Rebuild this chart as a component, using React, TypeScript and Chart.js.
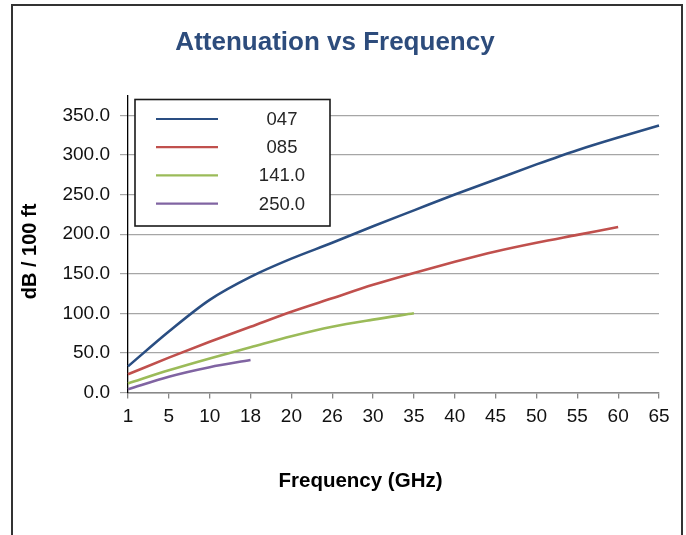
import React, { useEffect, useRef } from "react";
import { Chart, registerables } from "chart.js";

Chart.register(...registerables);

const categories = ["1", "5", "10", "18", "20", "26", "30", "35", "40", "45", "50", "55", "60", "65"];
const series047 = [33, 77, 117, 146, 169, 189, 210, 230, 250, 269, 288, 306, 322, 337];
const series085 = [23, 44, 64, 83, 102, 119, 136, 151, 165, 178, 189, 199, 209, null];
const series141 = [11.5, 28, 43, 57, 71, 83, 92, 100, null, null, null, null, null, null];
const series250 = [4, 20, 32, 41, null, null, null, null, null, null, null, null, null, null];
const seriesNames = ["047", "085", "141.0", "250.0"];
const seriesColors = ["#2A4E82", "#C0504D", "#9BBB59", "#8064A2"];
const yTickValues = [0, 50, 100, 150, 200, 250, 300, 350];
const chartTitle = "Attenuation vs Frequency";
const xTitle = "Frequency (GHz)";
const yTitle = "dB / 100 ft";

const FONT = "'Liberation Sans', Arial, sans-serif";

export default function App() {
  const ref = useRef<HTMLCanvasElement | null>(null);

  useEffect(() => {
    if (!ref.current) return;

    const framePlugin = {
      id: "frame",
      beforeDraw(chart: any) {
        const ctx = chart.ctx;
        ctx.save();
        ctx.fillStyle = "#ffffff";
        ctx.fillRect(0, 0, chart.width, chart.height);
        ctx.strokeStyle = "#333333";
        ctx.lineWidth = 2;
        ctx.beginPath();
        ctx.moveTo(12, chart.height + 2);
        ctx.lineTo(12, 5);
        ctx.lineTo(682, 5);
        ctx.lineTo(682, chart.height + 2);
        ctx.stroke();
        ctx.restore();
      },
    };

    const titlesPlugin = {
      id: "axisTitles",
      afterDraw(chart: any) {
        const ctx = chart.ctx;
        ctx.save();
        ctx.fillStyle = "#000000";
        ctx.textAlign = "center";
        ctx.textBaseline = "middle";
        ctx.font = `bold 20.5px ${FONT}`;
        ctx.fillText(xTitle, 360.5, 481);
        ctx.font = `bold 20px ${FONT}`;
        ctx.translate(30, 251.5);
        ctx.rotate(-Math.PI / 2);
        ctx.fillText(yTitle, 0, 0);
        ctx.restore();
      },
    };

    const legendPlugin = {
      id: "boxLegend",
      afterDatasetsDraw(chart: any) {
        const ctx = chart.ctx;
        ctx.save();
        const bx = 135, by = 99.5, bw = 195, bh = 126.5;
        ctx.fillStyle = "#ffffff";
        ctx.fillRect(bx, by, bw, bh);
        ctx.strokeStyle = "#1a1a1a";
        ctx.lineWidth = 1.6;
        ctx.strokeRect(bx, by, bw, bh);
        chart.data.datasets.forEach((ds: any, i: number) => {
          const y = 119 + i * 28.2;
          ctx.strokeStyle = ds.borderColor;
          ctx.lineWidth = 2.2;
          ctx.beginPath();
          ctx.moveTo(156, y);
          ctx.lineTo(218, y);
          ctx.stroke();
          ctx.fillStyle = "#262626";
          ctx.font = `18.5px ${FONT}`;
          ctx.textAlign = "center";
          ctx.textBaseline = "middle";
          ctx.fillText(ds.label, 282, y + 1);
        });
        ctx.restore();
      },
    };

    const allSeries = [series047, series085, series141, series250];

    const chart = new Chart(ref.current, {
      type: "line",
      data: {
        labels: categories,
        datasets: allSeries.map((d, i) => ({
          label: seriesNames[i],
          data: d,
          borderColor: seriesColors[i],
          backgroundColor: seriesColors[i],
          borderWidth: 2.6,
          pointRadius: 0,
          cubicInterpolationMode: "monotone" as const,
          spanGaps: false,
          fill: false,
        })),
      },
      options: {
        animation: false,
        responsive: false,
        devicePixelRatio: 1,
        layout: { padding: { left: 11, right: 27, top: 0, bottom: 0 } },
        plugins: {
          legend: { display: false },
          tooltip: { enabled: false },
          title: {
            display: true,
            text: chartTitle,
            color: "#2D4C7C",
            font: { family: FONT, size: 26, weight: "bold" },
            padding: { top: 27.7, bottom: 36.6 },
          },
        },
        scales: {
          x: {
            type: "category",
            offset: false,
            afterFit(s: any) {
              s.height = 142.5;
            },
            grid: {
              display: true,
              drawOnChartArea: false,
              drawTicks: true,
              tickLength: 6,
              color: "#888888",
              lineWidth: 1.3,
            },
            border: { display: true, color: "#888888", width: 1.5 },
            ticks: {
              color: "#111111",
              font: { family: FONT, size: 19 },
              padding: 7,
              maxRotation: 0,
              autoSkip: false,
            },
          },
          y: {
            min: 0,
            max: 375,
            afterFit(s: any) {
              s.width = 117;
            },
            afterBuildTicks(s: any) {
              s.ticks = yTickValues.map((v) => ({ value: v }));
            },
            grid: {
              color: "#a6a6a6",
              lineWidth: 1.2,
              drawTicks: true,
              tickLength: 8,
            },
            border: { display: true, color: "#000000", width: 1.3 },
            ticks: {
              stepSize: 50,
              color: "#111111",
              font: { family: FONT, size: 19 },
              padding: 10,
              callback: (v: any) => Number(v).toFixed(1),
            },
          },
        },
      },
      plugins: [framePlugin, titlesPlugin, legendPlugin],
    });

    return () => chart.destroy();
  }, []);

  return (
    <div style={{ position: "absolute", left: 0, top: 0, width: 686, height: 535, overflow: "hidden" }}>
      <canvas ref={ref} width={686} height={535} style={{ width: 686, height: 535, display: "block" }} />
    </div>
  );
}
